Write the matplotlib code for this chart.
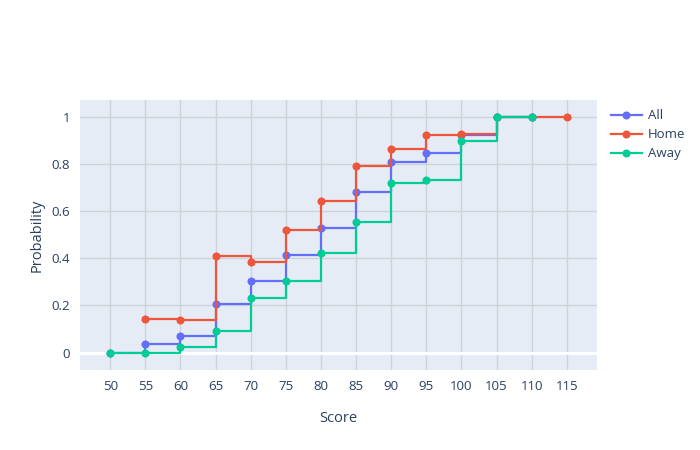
import matplotlib.pyplot as plt
from matplotlib.ticker import FuncFormatter

plt.rcParams['font.family'] = ['Open Sans', 'DejaVu Sans']

score_all = [50, 55, 60, 65, 70, 75, 80, 85, 90, 95, 100, 105, 110]
prob_all = [0, 0.035, 0.07, 0.207, 0.305, 0.415, 0.529, 0.683, 0.809, 0.849, 0.922, 1, 1]

score_home = [55, 60, 65, 70, 75, 80, 85, 90, 95, 100, 105, 110, 115]
prob_home = [0.142, 0.138, 0.408, 0.384, 0.521, 0.643, 0.793, 0.864, 0.925, 0.928, 1, 1, 1]

score_away = [50, 55, 60, 65, 70, 75, 80, 85, 90, 95, 100, 105, 110]
prob_away = [0, 0, 0.023, 0.093, 0.233, 0.304, 0.423, 0.555, 0.721, 0.731, 0.899, 1, 1]

xticks = [50, 55, 60, 65, 70, 75, 80, 85, 90, 95, 100, 105, 110, 115]
yticks = [0, 0.2, 0.4, 0.6, 0.8, 1]

fig = plt.figure(figsize=(7, 4.5), dpi=100)
ax = fig.add_axes([80/700, 80/450, 517/700, 270/450])
ax.set_facecolor('#E5ECF6')

for x, y, name, c in [(score_all, prob_all, 'All', '#636EFA'),
                      (score_home, prob_home, 'Home', '#EF553B'),
                      (score_away, prob_away, 'Away', '#00CC96')]:
    ax.plot(x, y, drawstyle='steps-post', color=c, lw=1.6, marker='o', ms=4.8,
            label=name, zorder=3)

ax.set_xlim(45.7, 119.3)
ax.set_ylim(-0.074, 1.072)
ax.set_xticks(xticks)
ax.set_yticks(yticks)
ax.yaxis.set_major_formatter(FuncFormatter(lambda v, p: '%g' % v))
ax.grid(True, color='#cfd3d8', lw=1, zorder=0)
ax.set_axisbelow(True)
ax.axhline(0, color='white', lw=2.2, zorder=1)
for s in ax.spines.values():
    s.set_visible(False)
ax.tick_params(length=0, colors='#2a3f5f', labelsize=9.5, pad=7)
ax.set_xlabel('Score', color='#2a3f5f', fontsize=10.5, labelpad=13)
ax.set_ylabel('Probability', color='#2a3f5f', fontsize=10.5)
ax.yaxis.set_label_coords(-0.068, 0.5)

leg = fig.legend(loc='upper left', bbox_to_anchor=(606/700, 1 - 104/450), frameon=False,
                 fontsize=9.5, handlelength=2.3, labelspacing=0.45, borderaxespad=0,
                 handletextpad=0.5)
for t in leg.get_texts():
    t.set_color('#2a3f5f')

fig.savefig('out.png', dpi=100)
